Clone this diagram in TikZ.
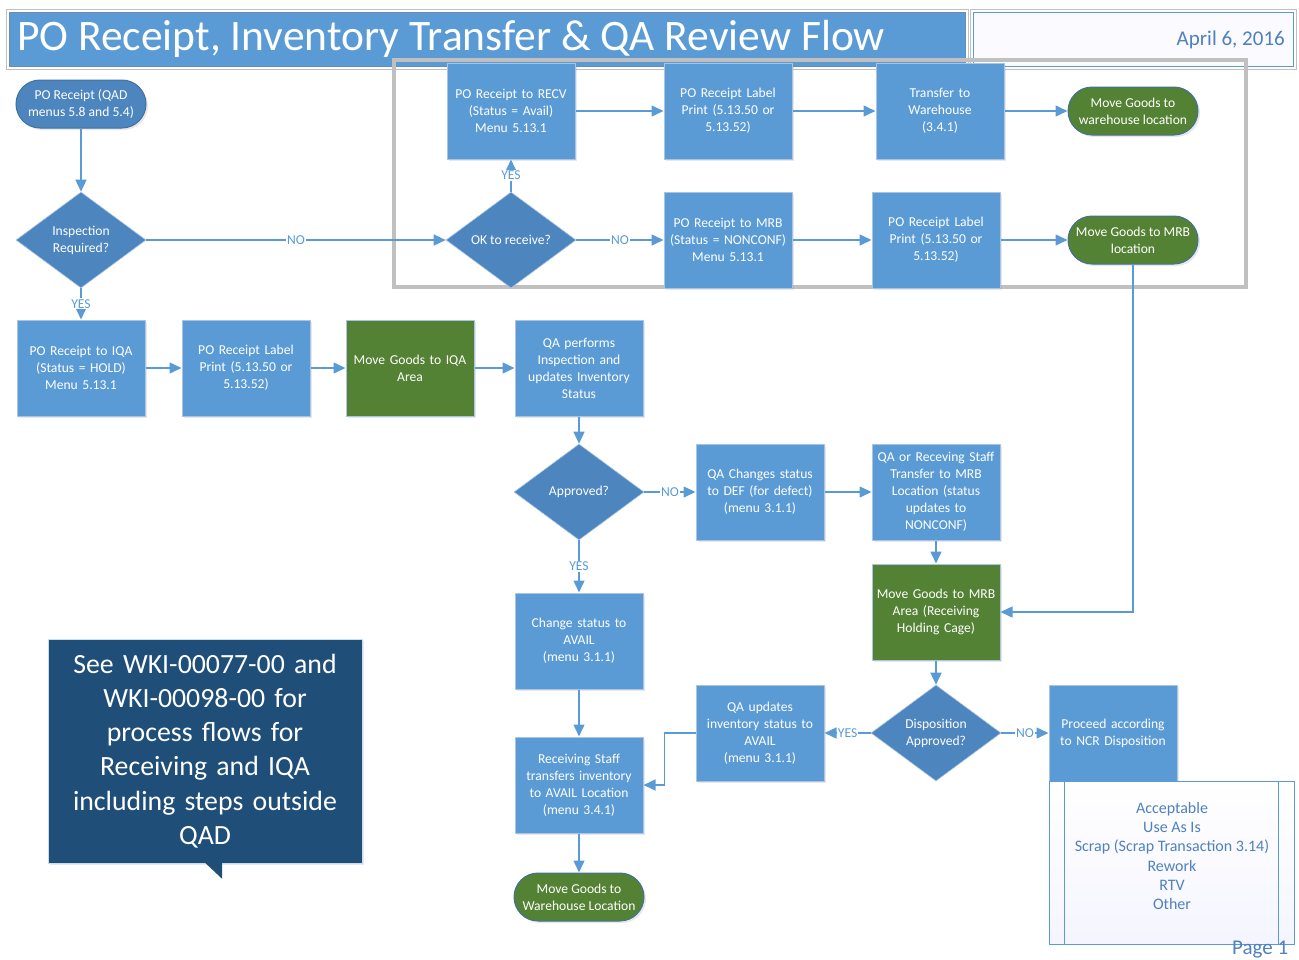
\documentclass[tikz,border=0pt]{standalone}
\usepackage{fontspec}
\setmainfont{Carlito}
\usetikzlibrary{arrows.meta,shapes.geometric,shadows}

\definecolor{boxblue}{HTML}{5B9BD5}
\definecolor{boxedge}{HTML}{A9C4E4}
\definecolor{decblue}{HTML}{4D85BF}
\definecolor{termedge}{HTML}{41719C}
\definecolor{gogreen}{HTML}{548235}
\definecolor{noteblue}{HTML}{1F4E79}
\definecolor{txtblue}{HTML}{4F81BD}
\definecolor{framegray}{HTML}{C0C0C0}

\tikzset{
  every node/.style={font=\fontsize{13.6}{17}\selectfont},
  boxshadow/.style={drop shadow={opacity=0.18,shadow xshift=2pt,shadow yshift=-2pt}},
  process/.style={rectangle,fill=boxblue,draw=boxedge,line width=1pt,text=white,
    minimum width=128pt,minimum height=96pt,text width=124pt,align=center,inner sep=2pt,boxshadow},
  greenbox/.style={process,fill=gogreen},
  decision/.style={diamond,fill=decblue,draw=boxedge,line width=0.6pt,text=white,
    minimum width=130pt,minimum height=96pt,align=center,inner sep=1pt},
  terminal/.style={rectangle,rounded corners=24pt,draw=termedge,line width=1pt,text=white,
    minimum width=130pt,minimum height=48pt,align=center,inner sep=1pt,boxshadow},
  startterm/.style={terminal,fill=decblue},
  endterm/.style={terminal,fill=gogreen},
  flow/.style={draw=boxblue,line width=1.5pt,-{Triangle[length=12pt,width=11pt]}},
  answer/.style={fill=white,text=boxblue,inner sep=1pt}
}

\begin{document}
\begin{tikzpicture}[x=1pt,y=-1pt]
\useasboundingbox (0,0) rectangle (1299,959);

% title and date bars
\draw[framegray,line width=1pt] (6,9) rectangle (968,69);
\draw[fill=boxblue,draw=termedge!80] (9,12) rectangle (965,66);
\node[anchor=west,text=white,font=\fontsize{43.5}{47}\selectfont,inner sep=0pt] (title) at (17,39) {PO Receipt, Inventory Transfer \& QA Review Flow};
\draw[framegray,line width=1pt] (970,9) rectangle (1296,69);
\draw[fill=blue!2,draw=boxblue] (973,12) rectangle (1293,66);
\node[anchor=east,text=txtblue,font=\fontsize{21}{24}\selectfont,inner sep=0pt] (date) at (1285,40) {April 6, 2016};

% receiving group frame
\draw[framegray,line width=4pt] (394,60) rectangle (1246,287);

\node[startterm] (start) at (81,104) {PO Receipt (QAD\\menus 5.8 and 5.4)};
\node[decision] (insp) at (81,240) {Inspection\\Required?};
\node[decision] (okrec) at (511,240) {OK to receive?};
\node[process] (recv) at (511,111) {PO Receipt to RECV\\(Status = Avail)\\Menu 5.13.1};
\node[process] (labela) at (728,111) {PO Receipt Label\\Print (5.13.50 or\\5.13.52)};
\node[process] (towh) at (940,111) {Transfer to\\Warehouse\\(3.4.1)};
\node[endterm] (movewh) at (1133,111) {Move Goods to\\warehouse location};
\node[process] (tomrb) at (728,240) {PO Receipt to MRB\\(Status = NONCONF)\\Menu 5.13.1};
\node[process] (labelb) at (936,240) {PO Receipt Label\\Print (5.13.50 or\\5.13.52)};
\node[endterm] (movemrb) at (1133,240) {Move Goods to MRB\\location};

\node[process] (toiqa) at (81,368) {PO Receipt to IQA\\(Status = HOLD)\\Menu 5.13.1};
\node[process] (labelc) at (246,368) {PO Receipt Label\\Print (5.13.50 or\\5.13.52)};
\node[greenbox] (moveiqa) at (410,368) {Move Goods to IQA\\Area};
\node[process] (qainsp) at (579,368) {QA performs\\Inspection and\\updates Inventory\\Status};
\node[decision] (appr) at (579,492) {Approved?};
\node[process] (qadef) at (760,492) {QA Changes status\\to DEF (for defect)\\(menu 3.1.1)};
\node[process] (qamrb) at (936,492) {QA or Receving Staff\\Transfer to MRB\\Location (status\\updates to\\NONCONF)};
\node[greenbox] (cage) at (936,612) {Move Goods to MRB\\Area (Receiving\\Holding Cage)};
\node[decision] (disp) at (936,733) {Disposition\\Approved?};
\node[process] (qaavail) at (760,733) {QA updates\\inventory status to\\AVAIL\\(menu 3.1.1)};
\node[process] (ncr) at (1113,733) {Proceed according\\to NCR Disposition};
\node[process] (chavail) at (579,641) {Change status to\\AVAIL\\(menu 3.1.1)};
\node[process] (rstaff) at (579,785) {Receiving Staff\\transfers inventory\\to AVAIL Location\\(menu 3.4.1)};
\node[endterm] (finalwh) at (579,897) {Move Goods to\\Warehouse Location};

% disposition options
\node[rectangle,draw=boxblue,line width=1pt,top color=white,bottom color=blue!4,
  minimum width=245pt,minimum height=163pt] (options) at (1171.5,862.5) {};
\draw[boxblue,line width=1pt] (options.north west) ++(16,0) -- ++(0,163);
\draw[boxblue,line width=1pt] (options.north east) ++(-16,0) -- ++(0,163);
\node[text=txtblue,align=center,font=\fontsize{16}{19.2}\selectfont] (optlist) at (1172,856)
  {Acceptable\\Use As Is\\Scrap (Scrap Transaction 3.14)\\Rework\\RTV\\Other};
\node[anchor=north west,text=txtblue,font=\fontsize{21}{23}\selectfont,inner sep=0pt] (page) at (1232,941) {Page 1};

% note
\node[rectangle,fill=noteblue,draw=boxedge!60,text=white,minimum width=314pt,minimum height=224pt,
  text width=305pt,align=center,font=\fontsize{27.8}{34.3}\selectfont,boxshadow] (note) at (205,751)
  {See WKI-00077-00 and\\WKI-00098-00 for\\process flows for\\Receiving and IQA\\including steps outside\\QAD};
\fill[noteblue] (note.south) ++(0,-0.5) -- ++(17,0) -- ++(0,16) -- cycle;

% connectors
\draw[flow] (start) -- (insp);
\draw[flow] (insp) -- node[answer] {NO} (okrec);
\draw[flow] (okrec) -- node[answer] {YES} (recv);
\draw[flow] (recv) -- (labela);
\draw[flow] (labela) -- (towh);
\draw[flow] (towh) -- (movewh);
\draw[flow] (okrec) -- node[answer] {NO} (tomrb);
\draw[flow] (tomrb) -- (labelb);
\draw[flow] (labelb) -- (movemrb);
\draw[flow] (movemrb) |- (cage);
\draw[flow] (insp) -- node[answer] {YES} (toiqa);
\draw[flow] (toiqa) -- (labelc);
\draw[flow] (labelc) -- (moveiqa);
\draw[flow] (moveiqa) -- (qainsp);
\draw[flow] (qainsp) -- (appr);
\draw[flow] (appr) -- node[answer] {NO} (qadef);
\draw[flow] (qadef) -- (qamrb);
\draw[flow] (qamrb) -- (cage);
\draw[flow] (cage) -- (disp);
\draw[flow] (disp) -- node[answer] {YES} (qaavail);
\draw[flow] (disp) -- node[answer] {NO} (ncr);
\draw[flow] (appr) -- node[answer] {YES} (chavail);
\draw[flow] (chavail) -- (rstaff);
\draw[flow] (qaavail.west) -- ++(-31,0) |- (rstaff.east);
\draw[flow] (rstaff) -- (finalwh);
\end{tikzpicture}
\end{document}
